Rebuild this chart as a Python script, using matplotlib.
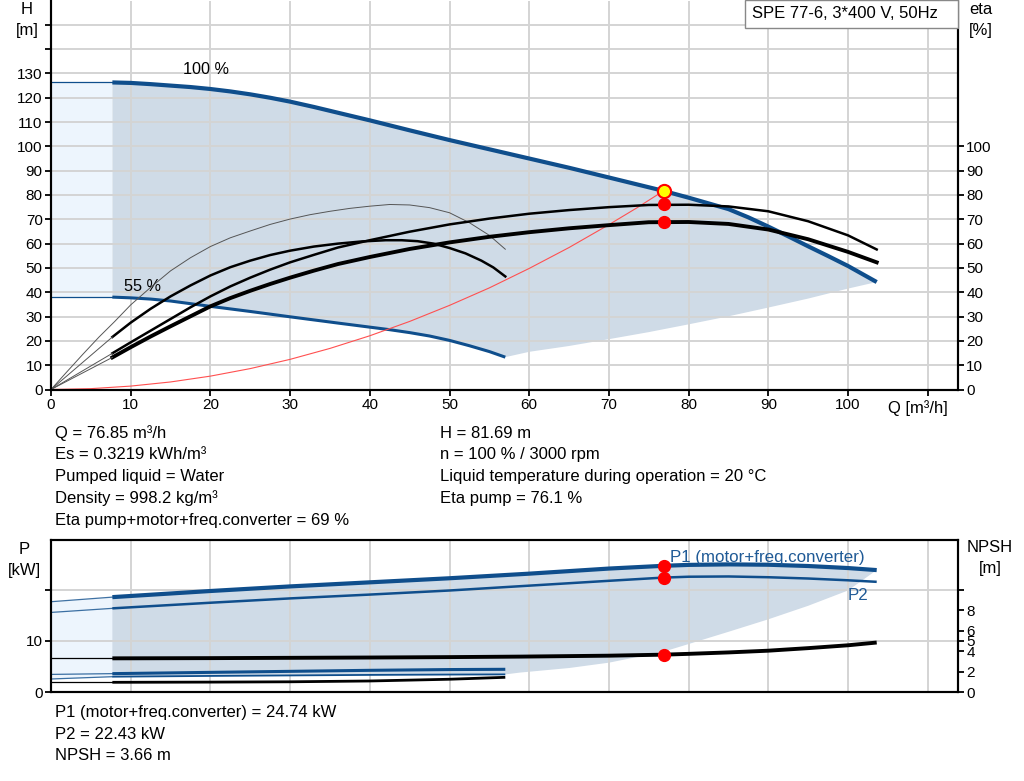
import matplotlib
matplotlib.use('Agg')
import matplotlib.pyplot as plt
import matplotlib.patches as mpatches
import numpy as np

plt.rcParams['font.family'] = ['Liberation Sans', 'DejaVu Sans']

W, HP = 1024, 781

# ---- duty point ----
q_duty = 76.85
h_duty = 81.69
eta_pump_duty = 76.1
eta_total_duty = 69
p1_duty = 24.74
p2_duty = 22.43
npsh_duty = 3.66
q_min = 7.7

# ---- QH curves ----
q_thin = [0, q_min]
h100_thin = [126.3, 126.3]
h55_thin = [38.0, 38.0]

q_h100 = [7.7, 10, 12.5, 15, 17.5, 20, 22.5, 25, 27.5, 30, 33, 36.3, 40, 45, 50, 55, 60, 65, 70,
          76.85, 80, 85, 87.5, 90, 92.5, 95, 97.5, 100, 103.6]
h_100 = [126.3, 126.1, 125.6, 125.0, 124.4, 123.6, 122.6, 121.4, 120.0, 118.4, 116.2, 113.6, 110.7,
         106.6, 102.6, 98.8, 95.0, 91.2, 87.2, 81.69, 78.9, 74.2, 70.8, 67.0, 63.0, 58.9, 54.9, 50.8, 44.2]

q_h55 = [7.7, 10, 12.5, 15, 17.5, 20, 25, 30, 36.3, 42.5, 45, 47.5, 50, 52.5, 55, 57]
h_55 = [38.0, 37.7, 37.2, 36.4, 35.3, 34.2, 32.1, 29.9, 27.2, 24.6, 23.4, 22.0, 20.2, 18.0, 15.6, 13.3]

# lower limit of the operating range
q_lim = [57, 60, 65, 70, 75, 80, 85, 90, 95, 100, 103.6]
h_lim = [13.3, 15.5, 17.9, 20.7, 23.6, 26.8, 30.1, 33.7, 37.4, 41.5, 44.2]

# system curve
q_sys = [0, 5, 10, 15, 20, 25, 30, 35, 40, 45, 50, 55, 60, 65, 70, 73.5, 76.85]
h_sys = [0, 0.35, 1.4, 3.1, 5.5, 8.6, 12.4, 16.9, 22.1, 28.0, 34.6, 41.8, 49.8, 58.4, 67.8, 74.7, 81.69]

# ---- efficiency curves ----
q_e100 = [7.7, 10, 12.5, 15, 17.5, 20, 22.5, 25, 27.5, 30, 33, 36, 40, 45, 50, 55, 60, 65, 70, 75,
          80, 85, 90, 95, 100, 103.6]
eta_pump100 = [14.9, 19.4, 24.2, 29.0, 33.8, 38.3, 42.4, 46.0, 49.3, 52.3, 55.4, 58.4, 61.4, 64.9,
               67.9, 70.3, 72.3, 73.8, 75.0, 75.9, 76.0, 75.3, 73.3, 69.2, 63.4, 57.6]
eta_tot100 = [13.2, 17.4, 21.8, 26.0, 30.1, 34.2, 37.6, 40.6, 43.4, 46.0, 48.9, 51.6, 54.5, 57.8,
              60.5, 62.8, 64.7, 66.3, 67.6, 68.8, 68.9, 68.1, 65.8, 61.8, 56.6, 52.3]

q_e55 = [7.7, 10, 12.5, 15, 17.5, 20, 22.5, 25, 27.5, 30, 33, 36, 39, 42, 44, 46, 48, 50, 52, 54,
         55.5, 57]
eta_tot55 = [21.6, 27.5, 33.2, 38.3, 42.8, 46.9, 50.3, 53.0, 55.3, 57.1, 58.8, 60.0, 60.9, 61.4,
             61.4, 61.0, 60.0, 58.2, 56.0, 53.0, 50.2, 46.5]

q_ep55 = [0, 2, 4, 6, 8, 10, 12.5, 15, 17.5, 20, 22.5, 25, 27.5, 30, 32.5, 35, 37.5, 40, 42.5, 45,
          47.5, 50, 52.5, 55, 57]
eta_pump55 = [0, 7.3, 14.5, 21.5, 28.0, 34.8, 42.0, 48.8, 54.2, 58.8, 62.4, 65.2, 67.9, 70.1, 71.9,
              73.3, 74.5, 75.4, 76.1, 75.9, 74.8, 72.7, 68.6, 63.4, 57.7]

# ---- power / NPSH curves ----
p1_100_thin = [17.7, 18.6]
p2_100_thin = [15.6, 16.4]
npsh100_thin = [3.3, 3.3]
p1_55_thin = [3.45, 3.6]
p2_55_thin = [2.55, 3.0]
npsh55_thin = [0.95, 0.95]

q_p100 = [7.7, 20, 30, 40, 50, 60, 70, 76.85, 80, 85, 90, 95, 100, 103.6]
p1_100 = [18.6, 19.8, 20.7, 21.5, 22.3, 23.2, 24.2, 24.74, 24.92, 25.02, 24.95, 24.7, 24.3, 23.9]
p2_100 = [16.4, 17.5, 18.35, 19.1, 19.9, 20.85, 21.8, 22.43, 22.6, 22.65, 22.5, 22.25, 21.9, 21.6]

q_n100 = [7.7, 20, 30, 40, 50, 59, 70, 76.85, 80, 85, 90, 95, 100, 103.6]
npsh_100 = [3.3, 3.32, 3.35, 3.38, 3.42, 3.47, 3.56, 3.66, 3.74, 3.88, 4.05, 4.3, 4.58, 4.85]

q_p55 = [7.7, 20, 30, 40, 50, 57]
p1_55 = [3.6, 3.85, 4.05, 4.25, 4.4, 4.45]
p2_55 = [3.0, 3.15, 3.25, 3.35, 3.42, 3.45]
npsh_55 = [0.95, 0.97, 1.0, 1.08, 1.25, 1.44]

q_plim = [57, 58.8, 65, 70, 76.85, 80, 85, 90, 95, 100, 103.6]
p_lim = [3.45, 3.8, 4.7, 5.75, 7.9, 9.4, 11.8, 14.25, 16.9, 19.9, 23.9]

# ---- styles ----
BLUE = '#0f4e8c'
DARK_FILL = '#cfdbe7'
LIGHT_FILL = '#edf5fd'
GRID = '#d4d4d4'
THIN = '#555555'


def fx(x):
    return x / W


def fy(y):
    return 1 - y / HP


def style_axes(ax):
    ax.tick_params(direction='out', length=4, width=1.3, labelsize=11, pad=2)
    for s in ax.spines.values():
        s.set_linewidth(1.5)


fig = plt.figure(figsize=(10.24, 7.81), dpi=100)
ax1 = fig.add_axes([fx(51), fy(389.5), fx(958) - fx(51), (389.5 - 0.5) / HP])
ax2 = fig.add_axes([fx(51), fy(692), fx(958) - fx(51), (692 - 540) / HP])

# ============================================================
# top: H / eta
# ============================================================
ax1.set_xlim(0, 113.8)
ax1.set_ylim(0, 160)
ax1.set_xticks(range(0, 120, 10))
ax1.set_xticklabels([str(v) if v <= 100 else '' for v in range(0, 120, 10)])
ax1.set_yticks(range(0, 160, 10))
ax1.set_yticklabels([str(v) if v <= 130 else '' for v in range(0, 160, 10)])
ax1.grid(True, color=GRID, lw=1.4)
ax1.spines['top'].set_visible(False)
style_axes(ax1)

ax1.fill_between(q_thin, h55_thin, h100_thin, color=LIGHT_FILL, lw=0, zorder=1)
poly_q = q_h100 + q_lim[::-1] + q_h55[::-1]
poly_h = h_100 + h_lim[::-1] + h_55[::-1]
ax1.fill(poly_q, poly_h, color=DARK_FILL, lw=0, zorder=1)

ax1.plot(q_thin, h100_thin, color=BLUE, lw=0.9)
ax1.plot(q_thin, h55_thin, color=BLUE, lw=0.9)
ax1.plot(q_h100, h_100, color=BLUE, lw=3.0, solid_capstyle='butt')
ax1.plot(q_h55, h_55, color=BLUE, lw=2.2, solid_capstyle='butt')
ax1.plot(q_sys, h_sys, color='#ff5050', lw=0.8)

ax1.text(16.5, 131.5, '100 %', fontsize=11.7, va='center')
ax1.text(9.2, 42.5, '55 %', fontsize=11.7, va='center')

ax1r = ax1.twinx()
ax1r.set_ylim(0, 160)
ax1r.set_yticks(range(0, 110, 10))
ax1r.spines['top'].set_visible(False)
style_axes(ax1r)

ax1r.plot(q_ep55, eta_pump55, color=THIN, lw=0.7)
ax1r.plot(q_e55, eta_tot55, color='black', lw=1.8)
ax1r.plot(q_e100, eta_pump100, color='black', lw=1.8)
ax1r.plot(q_e100, eta_tot100, color='black', lw=2.8)
for first in [eta_tot55[0], eta_pump100[0], eta_tot100[0]]:
    ax1r.plot(q_thin, [0, first], color=THIN, lw=0.7)

ax1.plot([q_duty], [h_duty], 'o', ms=9.5, mfc='#ffff00', mec='red', mew=1.5, zorder=6)
ax1r.plot([q_duty, q_duty], [eta_pump_duty, eta_total_duty], 'o', ms=8.5,
          color='red', mec='red', zorder=6)

# ============================================================
# bottom: P / NPSH
# ============================================================
ax2.set_xlim(0, 113.8)
ax2.set_ylim(0, 29.8)
ax2.set_xticks(range(0, 120, 10))
ax2.set_xticklabels([])
ax2.set_yticks([0, 10, 20])
ax2.set_yticklabels(['0', '10', ''])
ax2.grid(True, color=GRID, lw=1.4)
style_axes(ax2)
ax2.tick_params(axis='x', length=0)

ax2.fill_between(q_thin, p2_55_thin, p1_100_thin, color=LIGHT_FILL, lw=0, zorder=1)
poly_q2 = q_p100 + q_plim[::-1] + q_p55[::-1]
poly_p2 = p1_100 + p_lim[::-1] + p2_55[::-1]
ax2.fill(poly_q2, poly_p2, color=DARK_FILL, lw=0, zorder=1)

for thin in [p1_100_thin, p2_100_thin, p1_55_thin, p2_55_thin]:
    ax2.plot(q_thin, thin, color=BLUE, lw=0.9, alpha=0.8)
ax2.plot(q_p100, p1_100, color=BLUE, lw=3.0, solid_capstyle='butt')
ax2.plot(q_p100, p2_100, color=BLUE, lw=1.8, solid_capstyle='butt')
ax2.plot(q_p55, p1_55, color=BLUE, lw=2.2, solid_capstyle='butt')
ax2.plot(q_p55, p2_55, color=BLUE, lw=1.3, solid_capstyle='butt')
ax2.plot([q_duty, q_duty], [p1_duty, p2_duty], 'o', ms=8.5, color='red', zorder=6)

ax2.text(77.7, 26.3, 'P1 (motor+freq.converter)', fontsize=12.2, color='#1f5a96', va='center')
ax2.text(100, 19.0, 'P2', fontsize=12.2, color='#1f5a96', va='center')

ax2r = ax2.twinx()
ax2r.set_ylim(0, 14.9)
ax2r.set_yticks([0, 2, 4, 5, 6, 8, 10])
ax2r.set_yticklabels(['0', '2', '4', '5', '6', '8', ''])
style_axes(ax2r)

ax2r.plot(q_thin, npsh100_thin, color='black', lw=0.9)
ax2r.plot(q_thin, npsh55_thin, color='black', lw=0.9)
ax2r.plot(q_n100, npsh_100, color='black', lw=2.8, solid_capstyle='butt')
ax2r.plot(q_p55, npsh_55, color='black', lw=2.0, solid_capstyle='butt')
ax2r.plot([q_duty], [npsh_duty], 'o', ms=8.5, color='red', zorder=6)

# ============================================================
# labels and texts
# ============================================================
def ftext(x, y, s, **kw):
    kw.setdefault('fontsize', 12)
    kw.setdefault('va', 'center')
    fig.text(fx(x), fy(y), s, **kw)


ftext(27, 10, 'H', ha='center')
ftext(27, 30, '[m]', ha='center')
ftext(981, 10, 'eta', ha='center')
ftext(981, 30, '[%]', ha='center')
ftext(888, 408, 'Q [m³/h]')
ftext(24, 549, 'P', ha='center')
ftext(24, 570, '[kW]', ha='center')
ftext(990, 548, 'NPSH', ha='center')
ftext(990, 569, '[m]', ha='center')

fig.patches.append(mpatches.Rectangle((fx(745), fy(28)), fx(958) - fx(745), 28 / HP,
                                      transform=fig.transFigure, facecolor='white',
                                      edgecolor='#888888', lw=1, zorder=10))
ftext(752, 14, 'SPE 77-6, 3*400 V, 50Hz', zorder=11)

left_col = ['Q = 76.85 m³/h', 'Es = 0.3219 kWh/m³', 'Pumped liquid = Water',
            'Density = 998.2 kg/m³', 'Eta pump+motor+freq.converter = 69 %']
right_col = ['H = 81.69 m', 'n = 100 % / 3000 rpm',
             'Liquid temperature during operation = 20 °C', 'Eta pump = 76.1 %']
bottom_col = ['P1 (motor+freq.converter) = 24.74 kW', 'P2 = 22.43 kW', 'NPSH = 3.66 m']

for i, s in enumerate(left_col):
    ftext(55, 433 + i * 21.8, s)
for i, s in enumerate(right_col):
    ftext(440, 433 + i * 21.8, s)
for i, s in enumerate(bottom_col):
    ftext(55, 713 + i * 21.5, s)

fig.savefig('out.png', dpi=100)
plt.close(fig)
